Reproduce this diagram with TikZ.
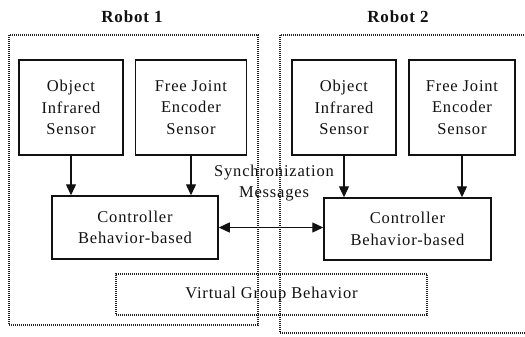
\documentclass[tikz,border=0pt]{standalone}
\usepackage{fontspec}
\setmainfont[LetterSpace=5]{Liberation Serif}
\usepackage{tikz}
\usetikzlibrary{arrows.meta}
\definecolor{ink}{HTML}{111111}
\definecolor{dots}{HTML}{222222}
\tikzset{
  block/.style={draw=ink, line width=1.5pt, fill=white, inner sep=0pt, align=center, text=ink, font=\fontsize{16.5}{21.5}\selectfont},
  frame/.style={draw=dots, line width=1.2pt, dash pattern=on 1pt off 1pt, inner sep=0pt},
  group/.style={frame, align=center, text=ink, font=\fontsize{16.5}{21.5}\selectfont},
  link/.style={draw=ink, line width=1.4pt, -{Triangle[length=11pt,width=10pt]}},
  linkboth/.style={draw=ink, line width=1.4pt, {Triangle[length=11pt,width=10pt]}-{Triangle[length=11pt,width=10pt]}},
  title/.style={inner sep=0pt, font=\fontsize{17}{19}\selectfont\bfseries, text=ink},
  note/.style={inner sep=0pt, align=center, font=\fontsize{16.5}{21}\selectfont, text=ink},
}
\begin{document}
\begin{tikzpicture}[x=1pt, y=-1pt]
  \useasboundingbox (0,0) rectangle (525,337);

  % the two robots
  \node[frame, minimum width=249pt, minimum height=290pt] (robotA) at (133.5,180) {};
  \node[frame, minimum width=252pt, minimum height=298pt] (robotB) at (406,184) {};
  \node[title] (titleA) at (132,17) {Robot 1};
  \node[title] (titleB) at (398,17) {Robot 2};

  \node[group, minimum width=311pt, minimum height=41pt] (virtual) at (271.5,294.5) {Virtual Group Behavior};

  % sensors
  \node[block, minimum width=104pt, minimum height=95pt] (irA) at (71,107.5) {Object\\Infrared\\Sensor};
  \node[block, minimum width=111pt, minimum height=95pt] (encA) at (191,107.5) {Free Joint\\Encoder\\Sensor};
  \node[block, minimum width=104pt, minimum height=95pt] (irB) at (344,107.5) {Object\\Infrared\\Sensor};
  \node[block, minimum width=106pt, minimum height=95pt] (encB) at (462,107.5) {Free Joint\\Encoder\\Sensor};

  % controllers
  \node[block, minimum width=166pt, minimum height=63pt] (ctrlA) at (135,227.5) {Controller\\Behavior-based};
  \node[block, minimum width=167pt, minimum height=62pt] (ctrlB) at (407.5,229) {Controller\\Behavior-based};

  \draw[link] (irA.south) -- (irA.south |- ctrlA.north);
  \draw[link] (encA.south) -- (encA.south |- ctrlA.north);
  \draw[link] (irB.south) -- (irB.south |- ctrlB.north);
  \draw[link] (encB.south) -- (encB.south |- ctrlB.north);

  \draw[linkboth] (ctrlA.east) -- (ctrlA.east -| ctrlB.west);
  \node[note] (sync) at (274,183) {Synchronization\\Messages};
\end{tikzpicture}
\end{document}
